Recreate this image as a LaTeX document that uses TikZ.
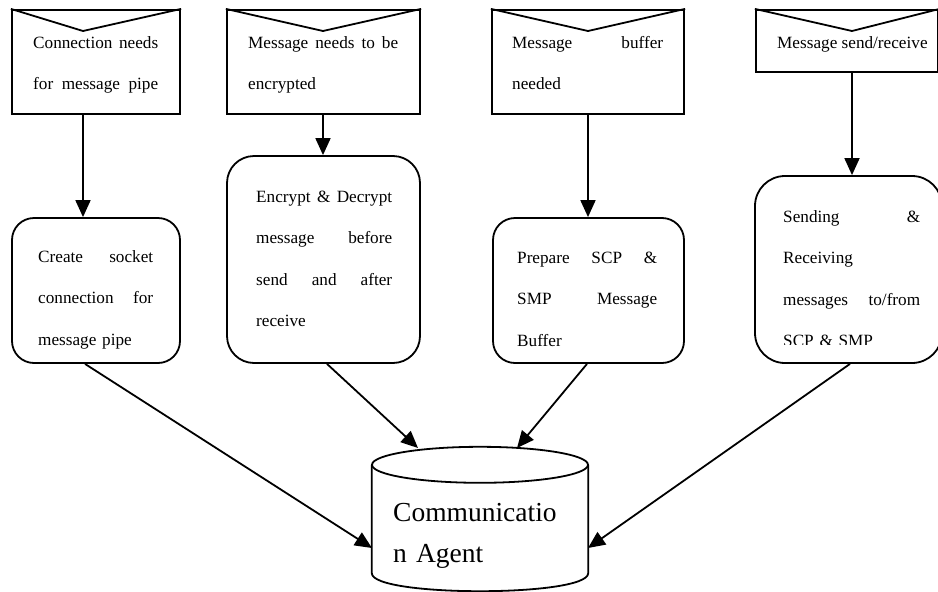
\documentclass[tikz,border=0pt]{standalone}
\usepackage{fontspec}
\setmainfont{Liberation Serif}
\usetikzlibrary{arrows.meta}
\newcommand\jbox[2]{\leavevmode\hbox to #1{#2}}
\begin{document}
\begin{tikzpicture}[x=1pt,y=-1pt,
  envbox/.style={draw,line width=2.2pt,inner sep=0pt},
  procbox/.style={draw,line width=1.8pt,inner sep=0pt},
  txt/.style={anchor=base west,inner sep=0pt,align=left,font=\fontsize{17.2}{41.5}\selectfont},
  bigtxt/.style={anchor=base west,inner sep=0pt,align=left,font=\fontsize{27.5}{41}\selectfont},
  arr/.style={line width=1.8pt,-{Triangle[length=17pt,width=15pt]}}]
\useasboundingbox (0,0) rectangle (938,592);

% envelope boxes
\node[envbox,minimum width=168pt,minimum height=104pt] (e1) at (96,62) {};
\node[envbox,minimum width=193pt,minimum height=104pt] (e2) at (323.5,62) {};
\node[envbox,minimum width=192pt,minimum height=104pt] (e3) at (588,62) {};
\node[envbox,minimum width=182.5pt,minimum height=62pt] (e4) at (847.25,41) {};
\coordinate (v1) at (83,31);
\coordinate (v2) at (323,31);
\coordinate (v3) at (588,31);
\coordinate (v4) at (852,31);
\draw[line width=1.8pt] (e1.north west) -- (v1) -- (e1.north east);
\draw[line width=1.8pt] (e2.north west) -- (v2) -- (e2.north east);
\draw[line width=1.8pt] (e3.north west) -- (v3) -- (e3.north east);
\draw[line width=1.8pt] (e4.north west) -- (v4) -- (e4.north east);

\node[txt,text width=125pt] (te1) at (33,48)
  {\jbox{125pt}{Connection\hfill needs}\\\jbox{125pt}{for\hfill message\hfill pipe}};
\node[txt,text width=150pt] (te2) at (248,48)
  {\jbox{150pt}{Message\hfill needs\hfill to\hfill be}\\encrypted};
\node[txt,text width=151pt] (te3) at (512,48)
  {\jbox{151pt}{Message\hfill buffer}\\needed};
\node[txt] (te4) at (777,48) {Message send/receive};

% process boxes
\node[procbox,rounded corners=22pt,minimum width=168pt,minimum height=145pt] (r1) at (96,290.5) {};
\node[procbox,rounded corners=27pt,minimum width=193pt,minimum height=207pt] (r2) at (323.5,259.5) {};
\node[procbox,rounded corners=22pt,minimum width=191pt,minimum height=145pt] (r3) at (588.5,290.5) {};
\node[procbox,rounded corners=30pt,minimum width=187pt,minimum height=187pt] (r4) at (848.5,269.5) {};

\node[txt,text width=115pt] (tr1) at (38,262)
  {\jbox{115pt}{Create\hfill socket}\\\jbox{115pt}{connection\hfill for}\\message pipe};
\node[txt,text width=136pt] (tr2) at (256,202)
  {\jbox{136pt}{Encrypt\hfill\&\hfill Decrypt}\\\jbox{136pt}{message\hfill before}\\\jbox{136pt}{send\hfill and\hfill after}\\receive};
\node[txt,text width=140pt] (tr3) at (517,263)
  {\jbox{140pt}{Prepare\hfill SCP\hfill \&}\\\jbox{140pt}{SMP\hfill Message}\\Buffer};
\begin{scope}
\clip (750,150) rectangle (945,344.5);
\node[txt,text width=137pt] (tr4) at (783,222)
  {\jbox{137pt}{Sending\hfill \&}\\Receiving\\\jbox{137pt}{messages\hfill to/from}\\SCP \& SMP};
\end{scope}

% vertical arrows
\draw[arr] (e1.south -| v1) -- (r1.north -| v1);
\draw[arr] (e2.south -| v2) -- (r2.north -| v2);
\draw[arr] (e3.south -| v3) -- (r3.north -| v3);
\draw[arr] (e4.south -| v4) -- (r4.north -| v4);

% cylinder
\node[minimum width=216pt,minimum height=108pt,inner sep=0pt] (cyl) at (480,519) {};
\draw[line width=1.8pt] (cyl.north) ellipse [x radius=108, y radius=18];
\draw[line width=1.8pt] (cyl.north west) -- (cyl.south west)
  .. controls +(0,24) and +(0,24) .. (cyl.south east) -- (cyl.north east);
\node[bigtxt,text width=200pt] (tc) at (393,521) {Communicatio\\n Agent};

% converging arrows
\coordinate (b1) at (85,363);
\coordinate (b2) at (327,363);
\coordinate (b3) at (587,363);
\coordinate (b4) at (850,363);
\coordinate (t1) at (372,548);
\coordinate (t2) at (418,448);
\coordinate (t3) at (517,448);
\coordinate (t4) at (588,548);
\draw[arr] (r1.south -| b1) -- (t1);
\draw[arr] (r2.south -| b2) -- (t2);
\draw[arr] (r3.south -| b3) -- (t3);
\draw[arr] (r4.south -| b4) -- (t4);
\end{tikzpicture}
\end{document}
